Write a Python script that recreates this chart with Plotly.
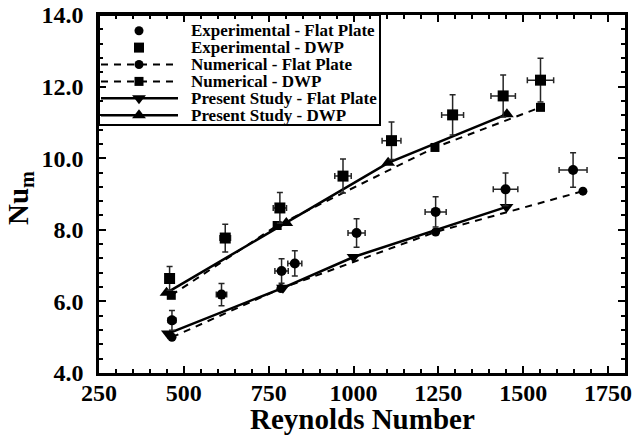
import plotly.graph_objects as go

# Mean Nusselt number vs Reynolds number
exp_flat_re = [465, 611, 788, 827, 1009, 1242, 1448, 1647]
exp_flat_nu = [5.47, 6.19, 6.85, 7.06, 7.91, 8.50, 9.13, 9.67]

exp_dwp_re = [458, 622, 783, 969, 1112, 1292, 1441, 1551]
exp_dwp_nu = [6.64, 7.77, 8.61, 9.50, 10.49, 11.21, 11.74, 12.18]

num_flat_re = [465, 786, 1242, 1676]
num_flat_nu = [5.00, 6.36, 7.94, 9.08]

num_dwp_re = [463, 775, 1240, 1551]
num_dwp_nu = [6.17, 8.12, 10.30, 11.42]

ps_flat_re = [453, 792, 1000, 1451]
ps_flat_nu = [5.10, 6.38, 7.24, 8.64]

ps_dwp_re = [449, 802, 1102, 1452]
ps_dwp_nu = [6.24, 8.19, 9.87, 11.23]

x_ticks = [250, 500, 750, 1000, 1250, 1500, 1750]
y_ticks = [4.0, 6.0, 8.0, 10.0, 12.0, 14.0]

FONT = "Liberation Serif"
INK = "black"
ERR = "#262626"
DASH = "7px,6px"

W, H = 634, 438
ML, MR, MT, MB = 99, 9, 15, 65
PW, PH = W - ML - MR, H - MT - MB


def bold(size):
    return dict(family=FONT, size=size, color=INK, weight="bold")


def paper_x(px):
    return (px - ML) / PW


def paper_y(py):
    return (H - MB - py) / PH


fig = go.Figure()

err_x = dict(type="percent", value=2.5, color=ERR, thickness=1.5, width=3)
err_y = dict(type="percent", value=5, color=ERR, thickness=1.5, width=3)

fig.add_trace(go.Scatter(x=num_flat_re, y=num_flat_nu, mode="lines+markers",
                         line=dict(color=INK, width=2, dash=DASH),
                         marker=dict(symbol="circle", size=9, color=INK),
                         showlegend=False))
fig.add_trace(go.Scatter(x=num_dwp_re, y=num_dwp_nu, mode="lines+markers",
                         line=dict(color=INK, width=2, dash=DASH),
                         marker=dict(symbol="square", size=9, color=INK),
                         showlegend=False))
fig.add_trace(go.Scatter(x=ps_flat_re, y=ps_flat_nu, mode="lines+markers",
                         line=dict(color=INK, width=2.5),
                         marker=dict(symbol="triangle-down", size=12, color=INK),
                         showlegend=False))
fig.add_trace(go.Scatter(x=ps_dwp_re, y=ps_dwp_nu, mode="lines+markers",
                         line=dict(color=INK, width=2.5),
                         marker=dict(symbol="triangle-up", size=12, color=INK),
                         showlegend=False))
fig.add_trace(go.Scatter(x=exp_flat_re, y=exp_flat_nu, mode="markers",
                         marker=dict(symbol="circle", size=10, color=INK),
                         error_x=err_x, error_y=err_y, showlegend=False))
fig.add_trace(go.Scatter(x=exp_dwp_re, y=exp_dwp_nu, mode="markers",
                         marker=dict(symbol="square", size=11, color=INK),
                         error_x=err_x, error_y=err_y, showlegend=False))

# Legend drawn on a pixel-scaled overlay axis (origin at the plot's top-left)
legend_labels = ["Experimental - Flat Plate", "Experimental - DWP",
                 "Numerical - Flat Plate", "Numerical - DWP",
                 "Present Study - Flat Plate", "Present Study - DWP"]
legend_symbols = ["circle", "square", "circle", "square",
                  "triangle-down", "triangle-up"]
legend_lines = [None, None, DASH, DASH, "solid", "solid"]
legend_sizes = [9, 10, 9, 9, 12, 12]
row0, row_gap = 15.7, 16.9
line_x0, line_x1, mark_x, text_x = 2, 79, 40, 90
box_w, box_h = 281, 110

fig.add_shape(type="rect", xref="x2", yref="y2", x0=0, x1=box_w, y0=0, y1=box_h,
              line=dict(color=INK, width=2), fillcolor="white", layer="below")
for i, (lab, sym, ls, sz) in enumerate(zip(legend_labels, legend_symbols,
                                           legend_lines, legend_sizes)):
    yy = row0 + i * row_gap
    if ls is not None:
        fig.add_trace(go.Scatter(x=[line_x0, line_x1], y=[yy, yy], mode="lines",
                                 line=dict(color=INK, width=2.5 if ls == "solid" else 2,
                                           dash=ls),
                                 xaxis="x2", yaxis="y2", showlegend=False,
                                 hoverinfo="skip"))
    fig.add_trace(go.Scatter(x=[mark_x], y=[yy], mode="markers",
                             marker=dict(symbol=sym, size=sz, color=INK),
                             xaxis="x2", yaxis="y2", showlegend=False,
                             hoverinfo="skip"))
    fig.add_annotation(x=text_x, y=yy, xref="x2", yref="y2", text=lab,
                       showarrow=False, xanchor="left", yanchor="middle",
                       font=bold(17))

# Axis titles placed in paper coordinates
fig.add_annotation(x=0.5, y=paper_y(419), xref="paper", yref="paper",
                   text="Reynolds Number", showarrow=False,
                   xanchor="center", yanchor="middle", font=bold(29))
fig.add_annotation(x=paper_x(20), y=paper_y(198), xref="paper", yref="paper",
                   text="Nu<sub>m</sub>", showarrow=False, textangle=-90,
                   xanchor="center", yanchor="middle", font=bold(29))

axis_common = dict(showline=True, linecolor=INK, linewidth=2.5, mirror="ticks",
                   ticks="inside", ticklen=7, tickwidth=2, tickcolor=INK,
                   showgrid=False, zeroline=False, tickfont=bold(24),
                   automargin=False)

fig.update_layout(
    width=W, height=H,
    margin=dict(l=ML, r=MR, t=MT, b=MB, pad=0, autoexpand=False),
    paper_bgcolor="white", plot_bgcolor="white",
    font=dict(family=FONT, color=INK),
    xaxis=dict(range=[250, 1800], tickvals=x_ticks,
               ticktext=[str(v) for v in x_ticks],
               minor=dict(dtick=50, tick0=250, ticks="inside", ticklen=4,
                          tickwidth=1.5, tickcolor=INK),
               ticklabelstandoff=-4,
               **axis_common),
    yaxis=dict(range=[4, 14], tickvals=y_ticks,
               ticktext=["%.1f" % v for v in y_ticks],
               minor=dict(dtick=0.4, tick0=4, ticks="inside", ticklen=4,
                          tickwidth=1.5, tickcolor=INK),
               ticklabelstandoff=8,
               **axis_common),
    xaxis2=dict(range=[0, PW], overlaying="x", visible=False, fixedrange=True),
    yaxis2=dict(range=[PH, 0], overlaying="y", visible=False, fixedrange=True),
)

fig.write_html("out.html")
